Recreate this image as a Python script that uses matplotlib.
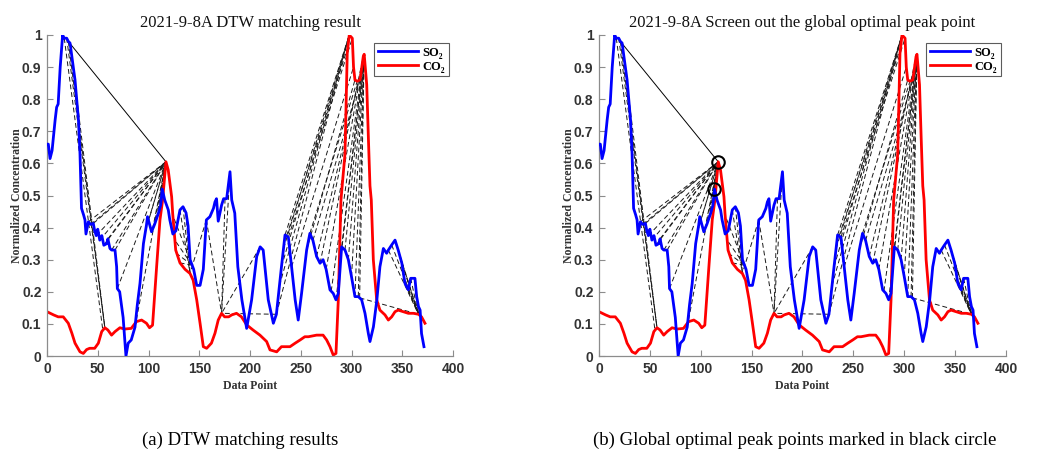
import numpy as np
import matplotlib
matplotlib.use('Agg')
import matplotlib.pyplot as plt
from matplotlib.lines import Line2D

# ---------- data ----------
so2_x = [0, 1.3, 3, 5, 8, 9.5, 11, 13, 15.4, 17, 19.4, 21, 22.7, 25, 27.6, 31, 32.5, 34,
         36, 37.4, 38.4, 40.7, 43, 45.6, 47, 48.5, 50, 52, 54, 56, 58.8, 60, 62, 63.7, 67,
         68.6, 69.3, 71.6, 75, 77.8, 80, 83, 86.7, 89, 91.6, 95, 98, 99, 101, 103, 106,
         109.7, 112, 113.5, 116, 119.5, 121, 124, 127, 131, 134, 137, 139, 141, 144.5,
         147.5, 150.8, 154, 157, 160.5, 164, 165.5, 167, 168.7, 172, 174, 177, 180.3,
         182, 185, 188, 192, 196.7, 201.6, 206.6, 210, 213, 218, 223, 226, 231, 234.5,
         237.8, 241, 244.5, 247.5, 250.8, 255.8, 259, 262, 265.6, 269, 272, 275, 278.8,
         282, 284.7, 287, 290.3, 293.6, 296.9, 300, 303.4, 306.7, 310, 313.3, 316.6,
         318.2, 321.6, 325, 328, 331.4, 334.6, 336.3, 339.6, 342.9, 346, 349.6, 352.7,
         356, 358.3, 362.5, 364.2, 366, 367.6, 369, 371.4]
so2_y = [0.66, 0.66, 0.615, 0.64, 0.735, 0.775, 0.785, 0.9, 1.0, 0.99, 0.99, 0.98, 0.975,
         0.92, 0.86, 0.735, 0.63, 0.46, 0.44, 0.424, 0.38, 0.418, 0.41, 0.413, 0.39,
         0.375, 0.395, 0.361, 0.375, 0.345, 0.35, 0.365, 0.335, 0.33, 0.33, 0.278, 0.21,
         0.2, 0.12, 0.0, 0.04, 0.05, 0.09, 0.16, 0.226, 0.35, 0.408, 0.434, 0.41, 0.387,
         0.41, 0.444, 0.47, 0.52, 0.486, 0.455, 0.424, 0.38, 0.39, 0.455, 0.465, 0.446,
         0.405, 0.30, 0.27, 0.22, 0.22, 0.27, 0.424, 0.434, 0.46, 0.48, 0.49, 0.42, 0.47,
         0.49, 0.49, 0.574, 0.486, 0.445, 0.278, 0.175, 0.086, 0.175, 0.31, 0.34, 0.33,
         0.175, 0.102, 0.13, 0.278, 0.377, 0.37, 0.278, 0.175, 0.112, 0.195, 0.33, 0.382,
         0.36, 0.31, 0.289, 0.30, 0.27, 0.206, 0.195, 0.175, 0.195, 0.34, 0.33, 0.30,
         0.247, 0.185, 0.185, 0.175, 0.133, 0.07, 0.045, 0.091, 0.175, 0.278, 0.335,
         0.32, 0.33, 0.346, 0.361, 0.33, 0.289, 0.226, 0.206, 0.242, 0.242, 0.185, 0.154,
         0.143, 0.07, 0.029]

co2_x = [0, 6.5, 11, 16, 21, 24.5, 27.6, 32.5, 35.8, 39, 42, 47, 50.6, 53.9, 57, 60,
         63.6, 67, 71.8, 76.6, 83, 88, 93.2, 98, 101, 104, 108, 111.3, 113.9, 117.2,
         119.4, 122.8, 123.8, 126.8, 131, 136, 140.9, 144, 147.5, 150.8, 154, 157.3, 162,
         165.5, 168.7, 172, 175, 179, 182, 186.7, 191.6, 196.7, 203, 209.8, 216.4, 219.7,
         226.3, 231, 239.4, 244.5, 249.4, 254, 257.5, 265.6, 272, 275.5, 278.8, 282,
         284.7, 287, 289.6, 293.6, 295.8, 297.8, 300.8, 302, 303.4, 305.6, 308.4, 311.6,
         312.5, 315, 316.6, 318.2, 319.5, 321.5, 324.8, 328, 333, 336.3, 339.6, 342.9,
         346, 351, 356, 361, 366, 369, 372.4]
co2_y = [0.138, 0.128, 0.122, 0.122, 0.102, 0.071, 0.04, 0.013, 0.008, 0.02, 0.024,
         0.024, 0.04, 0.076, 0.088, 0.081, 0.065, 0.076, 0.088, 0.084, 0.086, 0.107,
         0.112, 0.102, 0.088, 0.096, 0.278, 0.424, 0.486, 0.605, 0.58, 0.496, 0.445,
         0.33, 0.29, 0.27, 0.257, 0.236, 0.175, 0.102, 0.029, 0.024, 0.04, 0.071, 0.112,
         0.133, 0.122, 0.122, 0.128, 0.133, 0.122, 0.097, 0.081, 0.065, 0.045, 0.019,
         0.013, 0.029, 0.029, 0.04, 0.05, 0.06, 0.06, 0.065, 0.065, 0.05, 0.029, 0.003,
         0.008, 0.175, 0.486, 0.63, 0.943, 1.0, 0.99, 0.9, 0.86, 0.856, 0.86, 0.933,
         0.94, 0.845, 0.683, 0.53, 0.486, 0.3, 0.175, 0.143, 0.128, 0.112, 0.122, 0.138,
         0.143, 0.138, 0.133, 0.133, 0.13, 0.122, 0.102]

# DTW matched pairs: (SO2 data point, CO2 data point)
match_so2 = [17, 19.4, 21, 22.7,
             40.7, 43, 45.6, 48.5, 52, 56, 60, 63.7, 67, 69.3, 86.7, 97, 100, 104, 108, 110, 112,
             131, 134, 137, 141, 143, 143, 143,
             157, 157, 175.4, 180.3, 210, 226,
             226, 229, 231, 233, 234.5, 236, 237.8, 241, 255.8, 259, 262, 265.6, 269,
             275, 280, 284.7, 290.3, 293.6, 296.9, 300, 303.4, 306.7, 308,
             308, 336.3, 339.6, 342.9, 346, 349.6, 352.7, 356, 358.3, 362.5, 364.2]
match_co2 = [55, 57, 57, 57,
             117.2, 117.2, 117.2, 117.2, 117.2, 117.2, 117.2, 117.2, 117.2, 117.2, 117.2,
             117.2, 117.2, 117.2, 117.2, 117.2, 117.2,
             140.9, 140.9, 140.9, 124, 126, 128, 131,
             140.9, 172, 172, 172, 172, 172,
             297.8, 297.8, 297.8, 297.8, 297.8, 296.5, 300.8, 302, 303.4, 305.6, 308.4,
             310, 311.6, 312.5, 312.5, 312.5, 312.5, 312.5, 312.5, 312.5, 312.5, 312.5, 312.5,
             366, 366, 366, 366, 366, 366, 366, 366, 366, 366, 366]
# the single solid link: SO2 global peak -> CO2 peak
peak_link = (21, 117.2)
# global optimal peak points (panel b)
opt_so2_x = 113.5
opt_co2_x = 117.2

titles = ['2021-9-8A DTW matching result',
          '2021-9-8A Screen out the global optimal peak point']
captions = ['(a) DTW matching results',
            '(b) Global optimal peak points marked in black circle']

# ---------- figure ----------
W, H = 1052, 455
fig = plt.figure(figsize=(W / 100, H / 100), dpi=100)
serif = ['Liberation Serif', 'DejaVu Serif']
sans = ['Liberation Sans', 'DejaVu Sans']

axes_px = [(47, 406), (599, 407)]
cap_x = [240, 795]

for k, (x0, w) in enumerate(axes_px):
    ax = fig.add_axes([x0 / W, 1 - 356 / H, w / W, 321 / H])

    # matching lines
    for sx, cx in zip(match_so2, match_co2):
        ax.plot([sx, cx], [np.interp(sx, so2_x, so2_y), np.interp(cx, co2_x, co2_y)],
                color='#1a1a1a', lw=0.7, dashes=(5, 3), zorder=1)
    sx, cx = peak_link
    ax.plot([sx, cx], [np.interp(sx, so2_x, so2_y), np.interp(cx, co2_x, co2_y)],
            color='k', lw=0.7, zorder=1)

    ax.plot(so2_x, so2_y, color='#0000ff', lw=2.0, zorder=3)
    ax.plot(co2_x, co2_y, color='#ff0000', lw=2.0, zorder=2)

    if k == 1:
        ax.plot([opt_co2_x, opt_so2_x],
                [np.interp(opt_co2_x, co2_x, co2_y), np.interp(opt_so2_x, so2_x, so2_y)],
                ls='none', marker='o', ms=9, mfc='none', mec='k', mew=1.5, zorder=5)

    ax.set_xlim(0, 400)
    ax.set_ylim(0, 1)
    ax.set_xticks(np.arange(0, 401, 50))
    ax.set_yticks(np.arange(0, 1.01, 0.1))
    ax.set_yticklabels(['0', '0.1', '0.2', '0.3', '0.4', '0.5', '0.6', '0.7', '0.8', '0.9', '1'])
    for s in ['top', 'right']:
        ax.spines[s].set_visible(False)
    for s in ['left', 'bottom']:
        ax.spines[s].set_color('#8c8c8c')
        ax.spines[s].set_linewidth(0.9)
    ax.tick_params(direction='in', length=4, width=0.8, color='#8c8c8c',
                   labelcolor='#333333', labelsize=10, pad=4)
    for lab in ax.get_xticklabels() + ax.get_yticklabels():
        lab.set_family(sans)
        lab.set_fontweight('bold')

    ax.set_title(titles[k], fontsize=12, family=serif, pad=6, color='#111111')
    ax.set_xlabel('Data Point', fontsize=8.5, family=serif, fontweight='bold',
                  color='#333333', labelpad=3)
    ax.set_ylabel('Normalized Concentration', fontsize=8.5, family=serif,
                  fontweight='bold', color='#333333', labelpad=-1)

    handles = [Line2D([], [], color='#0000ff', lw=2.0), Line2D([], [], color='#ff0000', lw=2.0)]
    leg = ax.legend(handles, ['SO₂', 'CO₂'], loc='upper left',
                    bbox_to_anchor=(327 / w, (356 - 43) / 321),
                    prop={'family': serif, 'weight': 'bold', 'size': 9},
                    frameon=True, fancybox=False, handlelength=3.2, handletextpad=0.4,
                    borderpad=0.3, labelspacing=0.15, borderaxespad=0)
    leg.get_frame().set_edgecolor('#333333')
    leg.get_frame().set_linewidth(0.8)

    fig.text(cap_x[k] / W, 1 - 440 / H, captions[k], ha='center', va='center',
             fontsize=13.5, family=serif)

fig.savefig('out.png', dpi=100)
